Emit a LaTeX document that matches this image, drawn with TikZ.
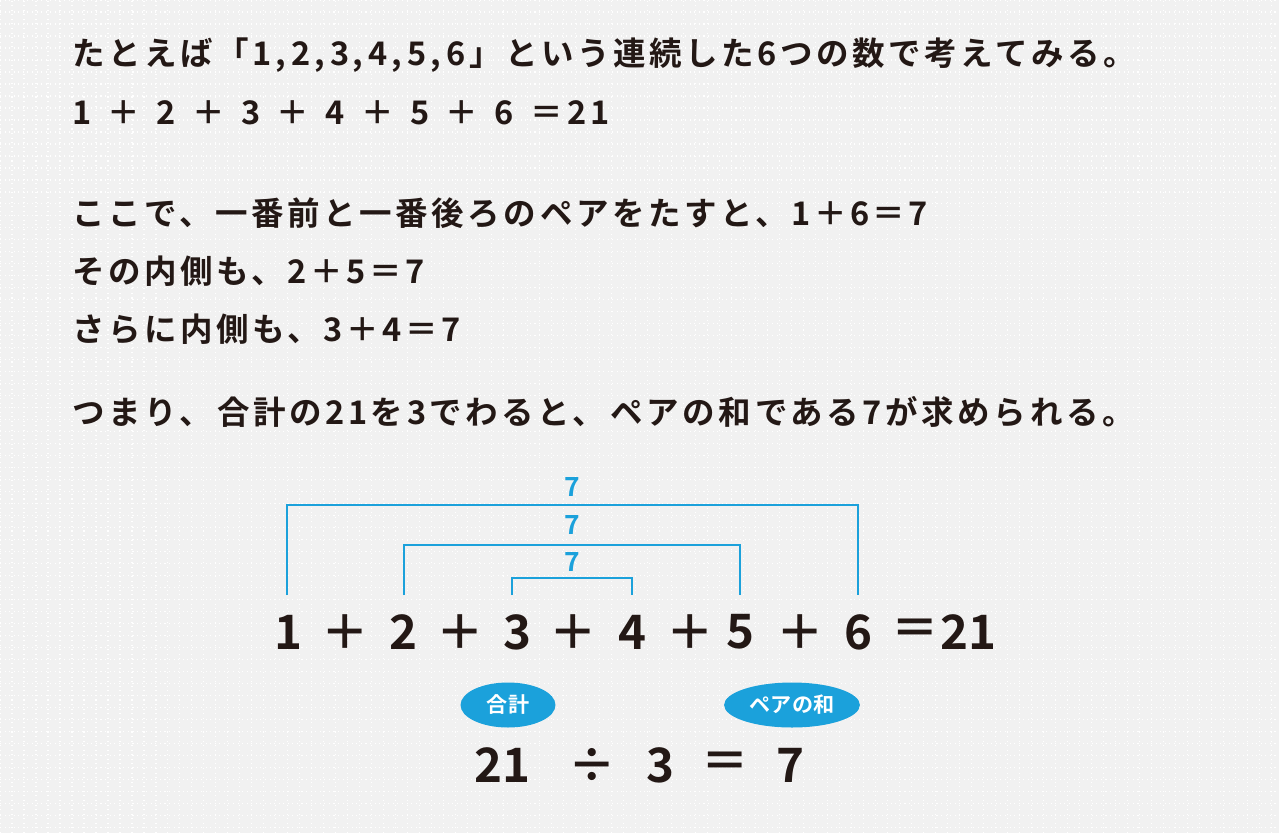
\documentclass[tikz,border=0pt]{standalone}
\usepackage{fontspec}
\newfontfamily\jp{Noto Sans CJK JP Bold}
\newfontfamily\jpw[LetterSpace=11]{Noto Sans CJK JP Bold}
\usetikzlibrary{shapes.geometric}
\definecolor{ink}{HTML}{231815}
\definecolor{cy}{HTML}{1BA1DB}
\definecolor{bg}{HTML}{F1F1F1}
\begin{document}
\begin{tikzpicture}[x=0.02cm,y=-0.02cm,
  txt/.style={anchor=west,inner sep=0,font=\jpw\fontsize{18.5}{20}\selectfont,text=ink},
  big/.style={inner sep=0,font=\jp\fontsize{27}{30}\selectfont,text=ink},
  lab/.style={inner sep=0,font=\jp\fontsize{15}{16}\selectfont,text=cy},
  br/.style={draw=cy,line width=1.6pt},
  pill/.style={ellipse,fill=cy,text=white,font=\jp\fontsize{12}{13}\selectfont,minimum height=0.9cm}]
\fill[bg] (0,0) rectangle (1279,833);
\useasboundingbox (0,0) rectangle (1279,833);
\draw[white,line width=0.6pt,dotted] (0,0) grid[step=0.24cm] (1279,833);
\node[txt] (l1) at (72,55) {たとえば「1,\,2,\,3,\,4,\,5,\,6」という連続した6つの数で考えてみる。};
\node[txt] (l2) at (72,113) {1 \,＋\, 2 \,＋\, 3 \,＋\, 4 \,＋\, 5 \,＋\, 6 \,＝\,21};
\node[txt] (l3) at (72,213) {ここで、一番前と一番後ろのペアをたすと、1＋6＝7};
\node[txt] (l4) at (72,271) {その内側も、2＋5＝7};
\node[txt] (l5) at (72,329) {さらに内側も、3＋4＝7};
\node[txt] (l6) at (72,412) {つまり、\,合計の21を3でわると、\,ペアの和である7が求められる。};
\foreach \n/\x/\t in {a/288/1,p1/345/＋,b/403/2,p2/460/＋,c/517/3,p3/573/＋,d/632/4,p4/690/＋,e/740/5,p5/800/＋,f/858/6,q/915/＝,s/968/21}
  \node[big] (\n) at (\x,632) {\t};
\draw[br] (287,595) -- (287,505) -- (858,505) -- (858,595);
\draw[br] (404,595) -- (404,545) -- (740,545) -- (740,595);
\draw[br] (512,595) -- (512,578) -- (632,578) -- (632,595);
\node[lab] (s1) at (572,487) {7};
\node[lab] (s2) at (572,525) {7};
\node[lab] (s3) at (572,562) {7};
\node[pill,minimum width=1.9cm] (g) at (508,705) {合計};
\node[pill,minimum width=2.5cm] (pw) at (792,705) {ペアの和};
\foreach \n/\x/\t in {r1/502/21,r2/592/÷,r3/660/3,r4/725/＝,r5/790/7}
  \node[big] (\n) at (\x,765) {\t};
\end{tikzpicture}
\end{document}
